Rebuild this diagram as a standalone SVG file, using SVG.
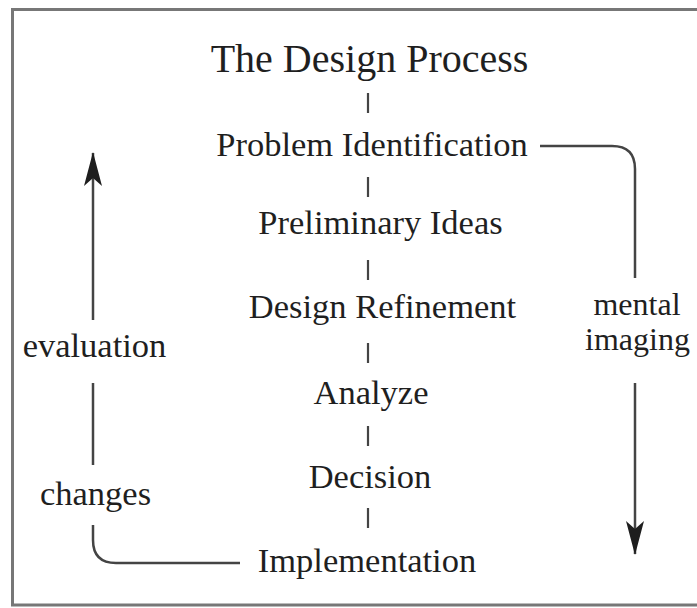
<svg xmlns="http://www.w3.org/2000/svg" width="697" height="608" viewBox="0 0 697 608">
  <defs>
    <style>
      .lbl { font-family: "Liberation Serif", "Times New Roman", serif; font-size: 34.5px; fill: #1f1f1f; text-anchor: middle; }
      .title { font-size: 40px; }
      .small { font-size: 32px; }
      .tick { stroke: #444; stroke-width: 2.2; fill: none; }
      .conn { stroke: #444; stroke-width: 2.5; fill: none; }
      .frame { stroke: #777; stroke-width: 3; fill: #fff; }
    </style>
    <marker id="arrow" markerUnits="userSpaceOnUse" viewBox="0 0 34 18" refX="33" refY="9" markerWidth="34" markerHeight="18" orient="auto">
      <path d="M0,0 L34,9 L0,18 L8,9 Z" fill="#1e1e1e"/>
    </marker>
  </defs>

  <rect width="697" height="608" fill="#fff"/>
  <rect class="frame" x="12.5" y="9.5" width="700" height="595.5"/>

  <g id="connectors">
    <line class="tick" x1="368" y1="93" x2="368" y2="113"/>
    <line class="tick" x1="368" y1="177" x2="368" y2="197"/>
    <line class="tick" x1="368" y1="260" x2="368" y2="280"/>
    <line class="tick" x1="368" y1="343" x2="368" y2="363"/>
    <line class="tick" x1="368" y1="426" x2="368" y2="446"/>
    <line class="tick" x1="368" y1="508" x2="368" y2="528"/>

    <!-- evaluation / changes feedback loop -->
    <path class="conn" d="M240,563 L116,563 Q93,563 93,540 L93,525"/>
    <line class="conn" x1="93" y1="465" x2="93" y2="383"/>
    <line class="conn" x1="93" y1="320" x2="93" y2="153" marker-end="url(#arrow)"/>

    <!-- mental imaging -->
    <path class="conn" d="M540,146 L612,146 Q635,146 635,169 L635,278"/>
    <line class="conn" x1="635" y1="383" x2="635" y2="554" marker-end="url(#arrow)"/>
  </g>

  <g id="title"><text class="lbl title" x="369.5" y="72">The Design Process</text></g>
  <g id="problem-identification"><text class="lbl" x="372" y="156">Problem Identification</text></g>
  <g id="preliminary-ideas"><text class="lbl" x="380.5" y="234">Preliminary Ideas</text></g>
  <g id="design-refinement"><text class="lbl" x="382.5" y="318">Design Refinement</text></g>
  <g id="analyze"><text class="lbl" x="371" y="404">Analyze</text></g>
  <g id="decision"><text class="lbl" x="370" y="488">Decision</text></g>
  <g id="implementation"><text class="lbl" x="367" y="572">Implementation</text></g>
  <g id="evaluation"><text class="lbl" x="94.5" y="357">evaluation</text></g>
  <g id="changes"><text class="lbl" x="95.5" y="505">changes</text></g>
  <g id="mental-imaging">
    <text class="lbl small" x="637" y="315">mental</text>
    <text class="lbl small" x="637.5" y="350">imaging</text>
  </g>
</svg>
